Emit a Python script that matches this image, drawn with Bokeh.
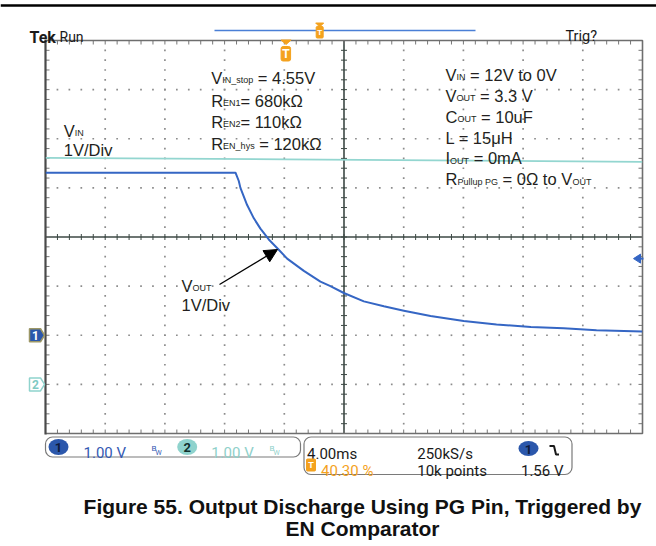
import numpy as np
from bokeh.plotting import figure
from bokeh.models import Range1d, Arrow, NormalHead
from bokeh.core.properties import value
from bokeh.embed import file_html
from bokeh.resources import INLINE

# ---------------- data ----------------
time_per_div_ms = 4.0
n_xdiv = 10
n_ydiv = 8
trigger_position_pct = 40.30
trigger_level_v = 1.56
ch1_volts_per_div = 1.0
ch2_volts_per_div = 1.0
ch1_position_div = -2.0
ch2_position_div = -3.0

# CH1 : VOUT (blue), time in ms relative to trigger, volts
vout_t_ms = [-16.1, -3.39, -3.17, -3.06, -2.61, -2.16, -1.72, -1.16, -0.49, 0.07, 1.19, 2.30,
             2.97, 3.87, 5.21, 6.55, 7.89, 9.68, 11.9, 14.1, 16.4, 18.6, 20.8, 23.86]
vout_v = [3.31, 3.31, 3.14, 3.00, 2.65, 2.38, 2.17, 1.95, 1.74, 1.56, 1.31, 1.09,
          1.00, 0.86, 0.69, 0.59, 0.50, 0.39, 0.29, 0.22, 0.17, 0.14, 0.10, 0.075]
# CH2 : VIN (cyan)
vin_t_ms = [-16.1, 0.0, 23.86]
vin_v = [4.61, 4.58, 4.53]

ch1_label = "1.00 V"
ch2_label = "1.00 V"
timebase_label = "4.00ms"
sample_rate_label = "250kS/s"
trig_pos_label = "40.30 %"
record_label = "10k points"
trig_level_label = "1.56 V"

# ---------------- page geometry ----------------
W, H = 656, 546
FL, FR, FT, FB = 45, 642, 40, 433
ppx = (FR - FL) / (n_xdiv * time_per_div_ms)   # px per ms
ppy = (FB - FT) / n_ydiv                       # px per div
t_left = -trigger_position_pct / 100.0 * n_xdiv * time_per_div_ms
t_right = t_left + n_xdiv * time_per_div_ms


def X(px):
    return t_left + (px - FL) / ppx


def Y(py):
    return n_ydiv / 2 - (py - FT) / ppy


def PX(t):
    return FL + (t - t_left) * ppx


def PY(d):
    return FT + (n_ydiv / 2 - d) * ppy


p = figure(width=W, height=H, x_range=Range1d(X(0), X(W)), y_range=Range1d(Y(H), Y(0)),
           output_backend="svg", toolbar_location=None, x_axis_location=None,
           y_axis_location=None, min_border=0, outline_line_color=None,
           background_fill_color="white", border_fill_color="white",
           styles={"position": "absolute", "left": "0px", "top": "0px"})
p.grid.visible = False

SANS = "Liberation Sans"
SCOPE = "Roboto"

# ---------------- graticule ----------------
xs_div = [t_left + i * time_per_div_ms for i in range(n_xdiv + 1)]
ys_div = [n_ydiv / 2 - j for j in range(n_ydiv + 1)]
t_center = t_left + n_xdiv / 2 * time_per_div_ms

dot_x, dot_y = [], []
yy = np.linspace(-n_ydiv / 2, n_ydiv / 2, n_ydiv * 5 + 1)[1:-1]
for xv in xs_div[1:-1]:
    if abs(xv - t_center) < 1e-9:
        continue
    dot_x += [xv] * len(yy)
    dot_y += list(yy)
xx = np.linspace(t_left, t_right, n_xdiv * 5 + 1)[1:-1]
for yv in ys_div[1:-1]:
    if abs(yv) < 1e-9:
        continue
    dot_x += list(xx)
    dot_y += [yv] * len(xx)
p.scatter(dot_x, dot_y, marker="square", size=1.7, fill_color="#8c8c8c", line_color=None)

# center crosshair
p.segment([t_left], [0], [t_right], [0], line_color="#3c4844", line_width=1.6)
p.segment([t_center], [Y(FB)], [t_center], [Y(FT)], line_color="#3c4844", line_width=1.6)
tk = 3.0
p.segment(list(xx), [Y(PY(0) - tk)] * len(xx), list(xx), [Y(PY(0) + tk)] * len(xx),
          line_color="#3c4844", line_width=1)
p.segment([X(PX(t_center) - tk)] * len(yy), list(yy), [X(PX(t_center) + tk)] * len(yy), list(yy),
          line_color="#3c4844", line_width=1)
# border ticks
bt = 4.0
p.segment(list(xx), [Y(FT)] * len(xx), list(xx), [Y(FT + bt)] * len(xx), line_color="#777777", line_width=1)
p.segment(list(xx), [Y(FB)] * len(xx), list(xx), [Y(FB - bt)] * len(xx), line_color="#777777", line_width=1)
p.segment([X(FL)] * len(yy), list(yy), [X(FL + bt)] * len(yy), list(yy), line_color="#777777", line_width=1)
p.segment([X(FR)] * len(yy), list(yy), [X(FR - bt)] * len(yy), list(yy), line_color="#777777", line_width=1)
# frame
p.line([t_left, t_right, t_right, t_left], [Y(FT), Y(FT), Y(FB), Y(FB)], line_color="#6e6e6e", line_width=1.6)
p.line([t_left, t_left], [Y(FT - 1), Y(FB + 1)], line_color="#4a4a4a", line_width=2.2)

# ---------------- traces ----------------
p.line(vin_t_ms, [ch2_position_div + v / ch2_volts_per_div for v in vin_v],
       line_color="#93d6d0", line_width=1.8)
p.line(vout_t_ms, [ch1_position_div + v / ch1_volts_per_div for v in vout_v],
       line_color="#3566c4", line_width=2, line_join="round")

# ---------------- top rule & header ----------------
p.segment([X(0)], [Y(5)], [X(W)], [Y(5)], line_color="black", line_width=2.5)
p.text(x=[X(29)], y=[Y(37)], text=["Tek"], text_font=value(SCOPE), text_font_style="bold",
       text_font_size="16px", text_color="#1a1a1a", text_baseline="alphabetic")
p.text(x=[X(59)], y=[Y(36)], text=["Run"], text_font=value(SCOPE),
       text_font_size="14px", text_color="#1a1a1a", text_baseline="alphabetic")
p.text(x=[X(565)], y=[Y(36)], text=["Trig?"], text_font=value(SCOPE),
       text_font_size="14.5px", text_color="#1a1a1a", text_baseline="alphabetic")
# record view bar
bar_l, bar_r, bar_y = 214, 475, 30
p.segment([X(bar_l)], [Y(bar_y)], [X(bar_r)], [Y(bar_y)], line_color="#4a7fd6", line_width=1.6)
tx = bar_l + trigger_position_pct / 100 * (bar_r - bar_l)
p.quad(left=[X(tx - 3.5)], right=[X(tx + 3.5)], top=[Y(26)], bottom=[Y(37.5)],
       fill_color="#f4a21e", line_color="#f4a21e", border_radius=1)
p.patch([X(tx - 4), X(tx + 4), X(tx)], [Y(22.5), Y(22.5), Y(26.5)], fill_color="#f4a21e", line_color="#f4a21e")
p.text(x=[X(tx)], y=[Y(32)], text=["T"], text_font=value(SANS), text_font_style="bold",
       text_font_size="8px", text_color="white", text_align="center", text_baseline="middle")
# trigger position marker
tpx = PX(0.0)
p.patch([X(tpx - 5), X(tpx + 5), X(tpx)], [Y(39.5), Y(39.5), Y(44)], fill_color="#f4a21e", line_color="#f4a21e")
p.quad(left=[X(tpx - 5)], right=[X(tpx + 4.5)], top=[Y(46)], bottom=[Y(60.5)],
       fill_color="#f4a21e", line_color="#f4a21e", border_radius=2)
p.text(x=[X(tpx - 0.3)], y=[Y(53.5)], text=["T"], text_font=value(SANS), text_font_style="bold",
       text_font_size="12px", text_color="white", text_align="center", text_baseline="middle")

# ---------------- channel markers ----------------
for pos, fill, line, txt, tcol in [(ch1_position_div, "#2b57ab", "#9c9766", "1", "white"),
                                   (ch2_position_div, "white", "#8fd3cd", "2", "#7fcac3")]:
    cy = PY(pos)
    p.patch([X(29), X(40), X(44), X(40), X(29)],
            [Y(cy - 6.5), Y(cy - 6.5), Y(cy), Y(cy + 6.5), Y(cy + 6.5)],
            fill_color=fill, line_color=line, line_width=1.5)
    p.text(x=[X(35)], y=[Y(cy + 0.5)], text=[txt], text_font=value(SCOPE), text_font_style="bold",
           text_font_size="12px", text_color=tcol, text_align="center", text_baseline="middle")
# trigger level marker (right)
ty = PY(ch1_position_div + trigger_level_v / ch1_volts_per_div)
p.patch([X(633), X(640), X(640)], [Y(ty), Y(ty - 4.5), Y(ty + 4.5)], fill_color="#3566c4", line_color="#3566c4")
p.segment([X(638)], [Y(ty)], [X(643)], [Y(ty)], line_color="#3566c4", line_width=2)

# ---------------- annotations ----------------
CW = {' ': 278, '=': 584, '.': 278, '_': 556, '/': 278, '?': 556, '%': 889,
      'Ω': 768, 'μ': 576}
for c in "0123456789":
    CW[c] = 556
CW.update(dict(zip("ABCDEFGHIJKLMNOPQRSTUVWXYZ",
                   [667, 667, 722, 722, 667, 611, 778, 722, 278, 500, 667, 556, 833, 722, 778, 667,
                    778, 722, 667, 611, 722, 667, 944, 667, 667, 611])))
CW.update(dict(zip("abcdefghijklmnopqrstuvwxyz",
                   [556, 556, 500, 556, 556, 278, 556, 556, 222, 222, 500, 222, 833, 556, 556, 556,
                    556, 333, 500, 278, 556, 500, 722, 500, 500, 500])))


def tw(s, fs):
    return sum(CW.get(c, 556) for c in s) / 1000.0 * fs


MAIN, SUB = 16.5, 9
TCOL = "#231f20"


def rich(x0, base, parts):
    cx = x0
    for s, sub in parts:
        fs = SUB if sub else MAIN
        yb = base + (2.5 if sub else 0)
        stripped = s.lstrip(" ")
        cx += tw(s[:len(s) - len(stripped)], fs)
        p.text(x=[X(cx)], y=[Y(yb)], text=[stripped], text_font=value(SANS), text_font_size=f"{fs}px",
               text_color=TCOL, text_baseline="alphabetic", text_align="left")
        cx += tw(stripped, fs)


rich(210.7, 77.3, [("V", 0), ("IN_stop", 1), (" = 4.55V", 0)])
rich(210.7, 100, [("R", 0), ("EN1", 1), ("= 680kΩ", 0)])
rich(210.7, 121, [("R", 0), ("EN2", 1), ("= 110kΩ", 0)])
rich(210.7, 143.3, [("R", 0), ("EN_hys", 1), (" = 120kΩ", 0)])

rich(445, 74, [("V", 0), ("IN", 1), (" = 12V to 0V", 0)])
rich(445, 95, [("V", 0), ("OUT", 1), (" = 3.3 V", 0)])
rich(445, 116, [("C", 0), ("OUT", 1), (" = 10uF", 0)])
rich(445, 137.5, [("L = 15μH", 0)])
rich(445, 157.5, [("I", 0), ("OUT", 1), (" = 0mA", 0)])
rich(445, 178.5, [("R", 0), ("Pullup PG", 1), (" = 0Ω to V", 0), ("OUT", 1)])

rich(63.3, 130, [("V", 0), ("IN", 1)])
rich(63.3, 149, [("1V/Div", 0)])
rich(181, 285, [("V", 0), ("OUT", 1)])
rich(181, 304, [("1V/Div", 0)])

p.add_layout(Arrow(end=NormalHead(size=13, fill_color="black", line_color="black"),
                   x_start=X(219), y_start=Y(284), x_end=X(277), y_end=Y(249),
                   line_color="black", line_width=1.3))

# ---------------- status bar ----------------
p.quad(left=[X(45)], right=[X(300)], top=[Y(436.5)], bottom=[Y(456.5)],
       fill_color=None, line_color="#7a7a7a", line_width=1.2, border_radius=7)
p.quad(left=[X(303.5)], right=[X(571.5)], top=[Y(436.5)], bottom=[Y(474)],
       fill_color=None, line_color="#7a7a7a", line_width=1.2, border_radius=7)
p.ellipse(x=[X(58), X(186.7), X(528)], y=[Y(446.5), Y(446.5), Y(448)], width=[20, 20, 20],
          height=[16, 16, 15], width_units="screen", height_units="screen",
          fill_color=["#2b57ab", "#8fd3cd", "#2b57ab"], line_color=None)
p.text(x=[X(58), X(186.7), X(528)], y=[Y(447), Y(447), Y(448.5)], text=["1", "2", "1"],
       text_font=value(SCOPE), text_font_style="bold", text_font_size="13px",
       text_color=["#0e1a3c", "#10302d", "#0e1a3c"], text_align="center", text_baseline="middle")
p.text(x=[X(83), X(210.7)], y=[Y(452), Y(452)], text=[ch1_label, ch2_label], text_font=value(SCOPE),
       text_font_size="15px", text_color=["#3459b3", "#8fd0ca"], text_baseline="alphabetic")
for bx, col in [(151, "#3459b3"), (269, "#8fd0ca")]:
    p.text(x=[X(bx)], y=[Y(448)], text=["B"], text_font=value(SCOPE), text_font_size="8px",
           text_color=col, text_baseline="alphabetic")
    p.text(x=[X(bx + 4)], y=[Y(452.5)], text=["W"], text_font=value(SCOPE), text_font_size="7px",
           text_color=col, text_baseline="alphabetic")
p.text(x=[X(306.5), X(416.7), X(416.7), X(563)], y=[Y(453), Y(453), Y(470.5), Y(470.5)],
       text=[timebase_label, sample_rate_label, record_label, trig_level_label],
       text_font=value(SCOPE), text_font_size="15px", text_color="#1a1a1a",
       text_baseline="alphabetic", text_align=["left", "left", "left", "right"])
p.quad(left=[X(306)], right=[X(315)], top=[Y(458.5)], bottom=[Y(470.5)],
       fill_color="#f4a21e", line_color="#f4a21e", border_radius=1)
p.text(x=[X(310.5)], y=[Y(464.8)], text=["T"], text_font=value(SANS), text_font_style="bold",
       text_font_size="9px", text_color="white", text_align="center", text_baseline="middle")
p.text(x=[X(320.5)], y=[Y(470.5)], text=[trig_pos_label], text_font=value(SCOPE),
       text_font_size="15px", text_color="#f4a21e", text_baseline="alphabetic")
# falling edge symbol
p.line([X(549), X(553.5), X(555.5), X(558.5)], [Y(445.5), Y(445.5), Y(454), Y(454)],
       line_color="#1a1a1a", line_width=2)

# ---------------- caption ----------------
p.text(x=[X(362), X(362)], y=[Y(506), Y(528)],
       text=["Figure 55. Output Discharge Using PG Pin, Triggered by", "EN Comparator"],
       text_font=value(SANS), text_font_style="bold", text_font_size="21px",
       text_color="#111111", text_align="center", text_baseline="alphabetic")

open("out.html", "w").write(file_html(p, INLINE))
